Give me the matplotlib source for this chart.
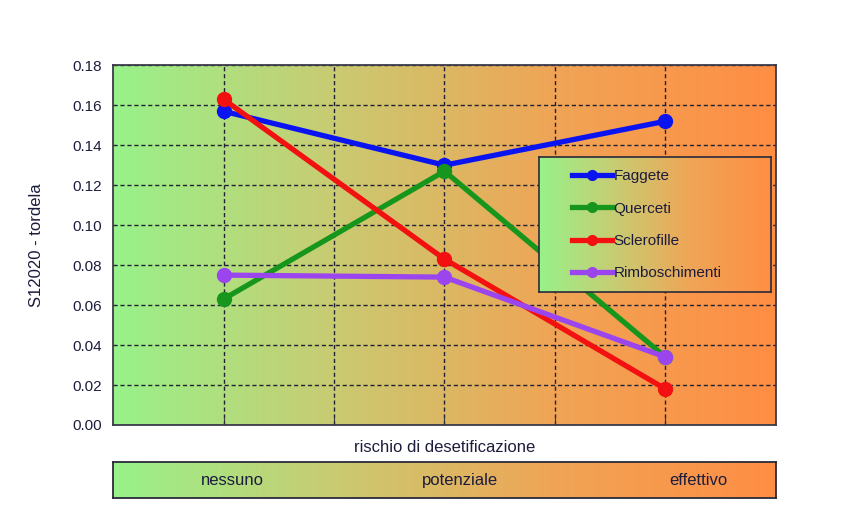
import numpy as np
import matplotlib
matplotlib.use("Agg")
import matplotlib.pyplot as plt
from matplotlib.colors import LinearSegmentedColormap

plt.rcParams['font.family'] = ['Liberation Sans', 'DejaVu Sans']

# data
categories = ['nessuno', 'potenziale', 'effettivo']
faggete = [0.157, 0.130, 0.152]
querceti = [0.063, 0.127, 0.034]
sclerofille = [0.163, 0.083, 0.018]
rimboschimenti = [0.075, 0.074, 0.034]

series = [
    ('Faggete', faggete, '#0a14f0'),
    ('Querceti', querceti, '#16961c'),
    ('Sclerofille', sclerofille, '#f21010'),
    ('Rimboschimenti', rimboschimenti, '#9b45ee'),
]

text_col = '#1c1c3c'
cmap = LinearSegmentedColormap.from_list('risk', ['#98f28a', '#c9cb72', '#f0a455', '#ff8e44'])
grad = np.linspace(0, 1, 256).reshape(1, -1)

fig = plt.figure(figsize=(8.51, 5.29), dpi=100)
fig.patch.set_facecolor('white')

ax = fig.add_axes([0.1328, 0.1966, 0.779, 0.680])
x = np.arange(1, len(categories) + 1)
ax.set_xlim(0.5, 3.5)
ax.set_ylim(0, 0.18)
ax.imshow(grad, cmap=cmap, aspect='auto', extent=[0.5, 3.5, 0, 0.18], zorder=0)

for name, vals, col in series:
    ax.plot(x, vals, color=col, lw=3.8, marker='o', ms=10, label=name, zorder=3)

ax.set_yticks(np.arange(0, 0.181, 0.02))
ax.set_yticklabels([f'{v:.2f}' for v in np.arange(0, 0.181, 0.02)])
ax.set_xticks(np.arange(1, 3.01, 0.5))
ax.set_xticklabels([])
ax.tick_params(axis='y', length=0, labelsize=11, labelcolor=text_col, pad=8)
ax.tick_params(axis='x', length=5, direction='in', color='#333344')
ax.grid(True, color='#222233', ls=(0, (3, 2)), lw=1, zorder=1)
for s in ax.spines.values():
    s.set_color('#3a3a4a')
    s.set_linewidth(1.3)
ax.set_ylabel('S12020 - tordela', fontsize=12, color=text_col, labelpad=20)
ax.set_xlabel('rischio di desetificazione', fontsize=12, color=text_col, labelpad=7)

# legend with gradient background
leg_rect = [0.6425, 0.369, 0.35, 0.375]
lax = ax.inset_axes(leg_rect, zorder=4)
lax.imshow(grad, cmap=cmap, aspect='auto', extent=[0, 1, 0, 1])
lax.set_xticks([])
lax.set_yticks([])
for s in lax.spines.values():
    s.set_color('#2a2a3a')
    s.set_linewidth(1.2)
leg = ax.legend(loc='center', bbox_to_anchor=(leg_rect[0] + leg_rect[2] / 2 - 0.012, leg_rect[1] + leg_rect[3] / 2),
                frameon=False, fontsize=11, handlelength=2.6, labelspacing=1.2,
                handletextpad=0.1, markerscale=0.7)
leg.set_zorder(5)
for t in leg.get_texts():
    t.set_color(text_col)

# bottom category band
bax = fig.add_axes([0.1328, 0.0586, 0.779, 0.068])
bax.set_xlim(0.5, 3.5)
bax.set_ylim(0, 1)
bax.imshow(grad, cmap=cmap, aspect='auto', extent=[0.5, 3.5, 0, 1])
bax.set_xticks([])
bax.set_yticks([])
for s in bax.spines.values():
    s.set_color('#2a2a3a')
    s.set_linewidth(1.3)
offsets = [0.04, 0.07, 0.15]
for xi, lab, off in zip(x, categories, offsets):
    bax.text(xi + off, 0.5, lab, ha='center', va='center', fontsize=12, color=text_col)

fig.savefig('out.png', dpi=100)
